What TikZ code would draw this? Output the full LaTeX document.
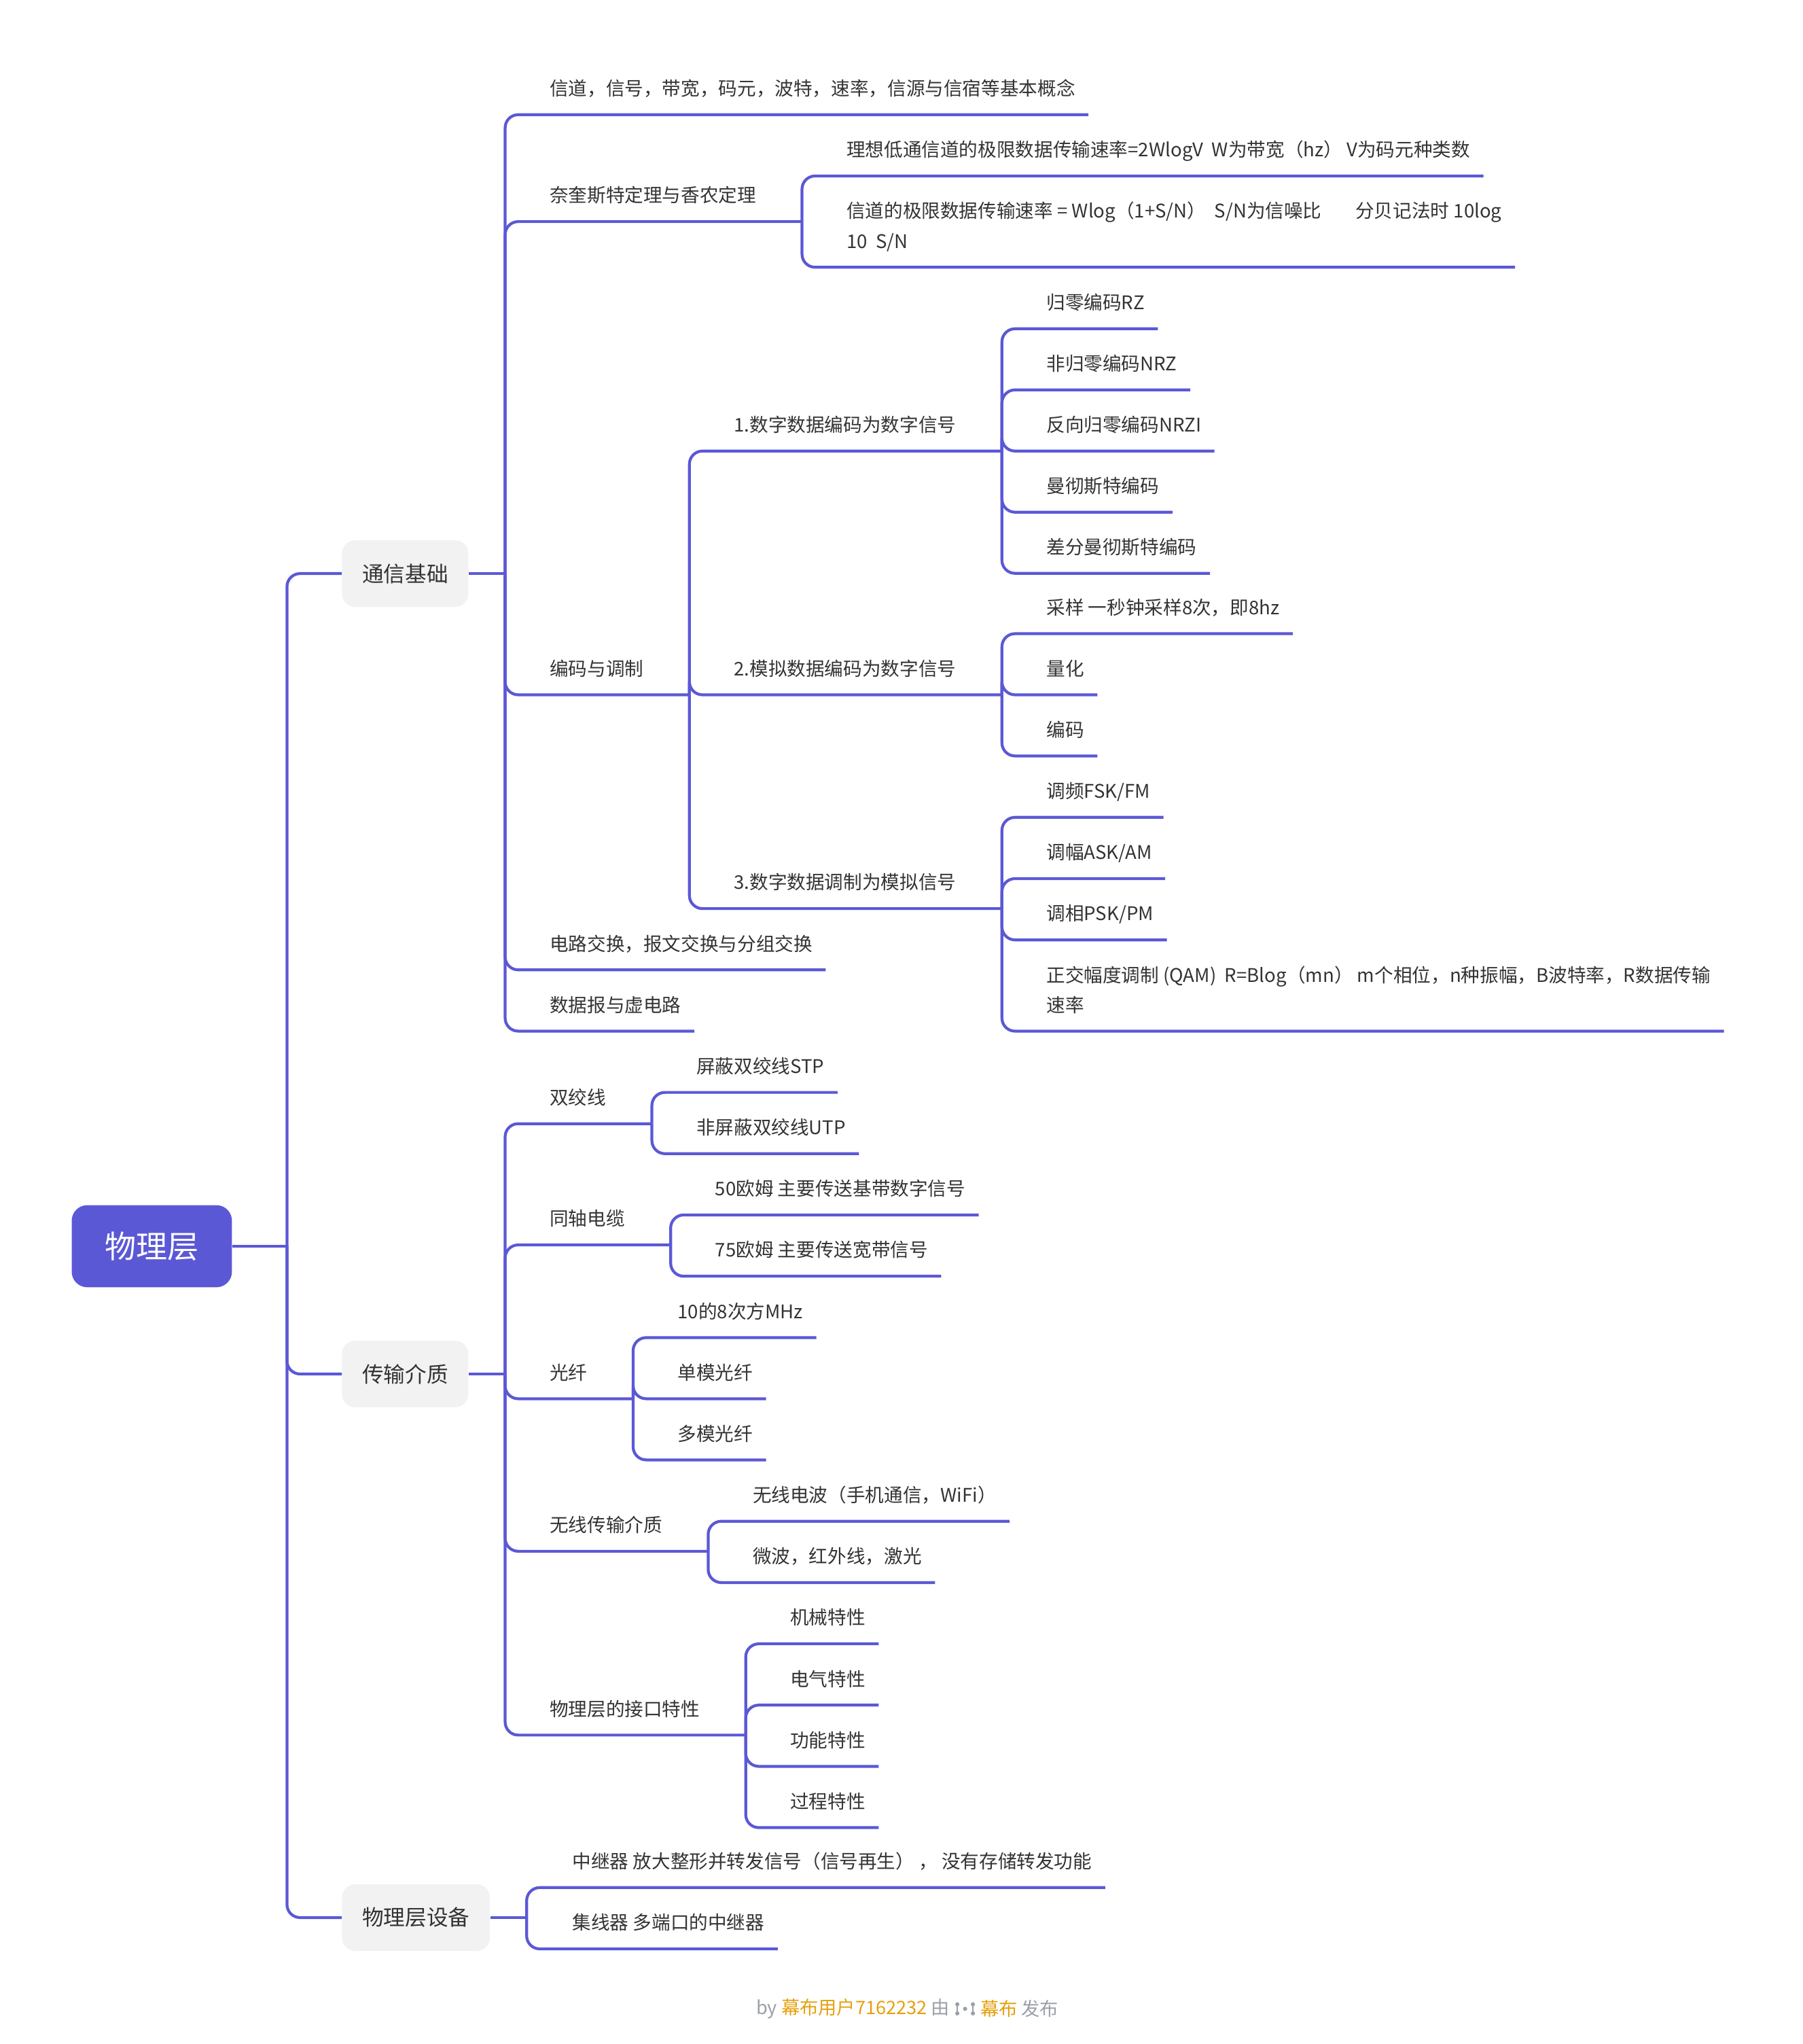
\documentclass[tikz,border=0pt]{standalone}
\usepackage{fontspec}
\newfontfamily\cjk{Noto Sans CJK SC}
\usetikzlibrary{positioning}
\definecolor{mubu}{RGB}{91,88,214}
\definecolor{boxgray}{RGB}{242,242,242}
\definecolor{ink}{RGB}{51,51,51}
\definecolor{gold}{RGB}{229,160,13}
\definecolor{muted}{RGB}{154,160,168}

\begin{document}
\begin{tikzpicture}[x=1pt,y=-1pt,
		branch/.style={draw=mubu,line width=2.2pt,rounded corners=10pt},
		rootbox/.style={fill=mubu,text=white,rounded corners=12pt,minimum width=123pt,minimum height=63pt,font=\cjk\fontsize{24}{28}\selectfont},
		mainbox/.style={fill=boxgray,text=ink,rounded corners=10pt,minimum height=51pt,inner xsep=15.5pt,font=\cjk\fontsize{16.5}{20}\selectfont},
		topic/.style={anchor=south west,inner xsep=0pt,inner ysep=14.5pt,text depth=0pt,text=ink,align=left,font=\cjk\fontsize{14.4}{23}\selectfont},
		credit/.style={inner sep=0pt,text=muted,font=\cjk\fontsize{14.2}{17}\selectfont}]
		\useasboundingbox (0,0) rectangle (1383,1568);
		
		\node[rootbox] (root) at (116.5,956) {物理层};
		\coordinate (j-root) at ([xshift=42pt]root.east);
		\draw[branch] (root) -- (j-root);
		\foreach \t/\n/\y in {通信基础/comm/440,传输介质/trans/1054,物理层设备/dev/1471}
		{\node[mainbox,anchor=west,xshift=42pt] (\n) at (j-root |- 0,\y) {\t};
			\coordinate (j-\n) at ([xshift=28pt]\n.east);
			\draw[branch] (j-root) |- (\n);
			\draw[branch] (\n) -- (j-\n);}
		
		% 通信基础
		\node[topic,xshift=34pt] (basic) at (j-comm |- 0,88) {信道，信号，带宽，码元，波特，速率，信源与信宿等基本概念};
		\node[topic,xshift=34pt] (nyq) at (j-comm |- 0,170) {奈奎斯特定理与香农定理};
		\node[topic,xshift=34pt] (coding) at (j-comm |- 0,533) {编码与调制};
		\node[topic,xshift=34pt] (switch) at (j-comm |- 0,744) {电路交换，报文交换与分组交换};
		\node[topic,xshift=34pt] (vc) at (j-comm |- 0,791) {数据报与虚电路};
		\foreach \n in {basic,switch,vc}
		\draw[branch] (j-comm) |- ([xshift=10pt]\n.south east);
		\foreach \n in {nyq,coding}
		{\coordinate (j-\n) at ([xshift=35pt]\n.south east);
			\draw[branch] (j-comm) |- (j-\n);}
		
		\node[topic,xshift=34pt] (nyq1) at (j-nyq |- 0,135) {理想低通信道的极限数据传输速率=2WlogV\ \ W为带宽（hz）\ V为码元种类数};
		\node[topic,xshift=34pt] (nyq2) at (j-nyq |- 0,205) {信道的极限数据传输速率 = Wlog（1+S/N）\ \ S/N为信噪比\hspace{26pt}分贝记法时 10log\\10\ \ S/N};
		\foreach \n in {nyq1,nyq2}
		\draw[branch] (j-nyq) |- ([xshift=10pt]\n.south east);
		
		\foreach \t/\n/\y in {1.数字数据编码为数字信号/one/346,2.模拟数据编码为数字信号/two/533,3.数字数据调制为模拟信号/three/697}
		{\node[topic,xshift=34pt] (\n) at (j-coding |- 0,\y) {\t};
			\coordinate (j-\n) at ([xshift=35pt]\n.south east);
			\draw[branch] (j-coding) |- (j-\n);}
		
		\foreach \t [count=\i] in {归零编码RZ,非归零编码NRZ,反向归零编码NRZI,曼彻斯特编码,差分曼彻斯特编码}
		{\pgfmathsetmacro\y{346+46.9*(\i-3)}
			\node[topic,xshift=34pt] (one\i) at (j-one |- 0,\y) {\t};
			\draw[branch] (j-one) |- ([xshift=10pt]one\i.south east);}
		\foreach \t [count=\i] in {采样 一秒钟采样8次，即8hz,量化,编码}
		{\pgfmathsetmacro\y{533+46.9*(\i-2)}
			\node[topic,xshift=34pt] (two\i) at (j-two |- 0,\y) {\t};
			\draw[branch] (j-two) |- ([xshift=10pt]two\i.south east);}
		\foreach \t [count=\i] in {调频FSK/FM,调幅ASK/AM,调相PSK/PM}
		{\pgfmathsetmacro\y{627+47*(\i-1)}
			\node[topic,xshift=34pt] (three\i) at (j-three |- 0,\y) {\t};
			\draw[branch] (j-three) |- ([xshift=10pt]three\i.south east);}
		\node[topic,xshift=34pt] (qam) at (j-three |- 0,791) {正交幅度调制 (QAM)\ \ R=Blog（mn）\ m个相位，n种振幅，B波特率，R数据传输\\速率};
		\draw[branch] (j-three) |- ([xshift=10pt]qam.south east);
		
		% 传输介质
		\foreach \t/\n/\y in {双绞线/twist/862,同轴电缆/coax/955,光纤/fiber/1073,无线传输介质/wireless/1190,物理层的接口特性/iface/1331}
		{\node[topic,xshift=34pt] (\n) at (j-trans |- 0,\y) {\t};
			\coordinate (j-\n) at ([xshift=35pt]\n.south east);
			\draw[branch] (j-trans) |- (j-\n);}
		
		\foreach \t [count=\i] in {屏蔽双绞线STP,非屏蔽双绞线UTP}
		{\pgfmathsetmacro\y{838+47*(\i-1)}
			\node[topic,xshift=34pt] (twist\i) at (j-twist |- 0,\y) {\t};
			\draw[branch] (j-twist) |- ([xshift=10pt]twist\i.south east);}
		\foreach \t [count=\i] in {50欧姆 主要传送基带数字信号,75欧姆 主要传送宽带信号}
		{\pgfmathsetmacro\y{932+47*(\i-1)}
			\node[topic,xshift=34pt] (coax\i) at (j-coax |- 0,\y) {\t};
			\draw[branch] (j-coax) |- ([xshift=10pt]coax\i.south east);}
		\foreach \t [count=\i] in {10的8次方MHz,单模光纤,多模光纤}
		{\pgfmathsetmacro\y{1073+46.9*(\i-2)}
			\node[topic,xshift=34pt] (fiber\i) at (j-fiber |- 0,\y) {\t};
			\draw[branch] (j-fiber) |- ([xshift=10pt]fiber\i.south east);}
		\foreach \t [count=\i] in {无线电波（手机通信，WiFi）,微波，红外线，激光}
		{\pgfmathsetmacro\y{1167+47*(\i-1)}
			\node[topic,xshift=34pt] (wireless\i) at (j-wireless |- 0,\y) {\t};
			\draw[branch] (j-wireless) |- ([xshift=10pt]wireless\i.south east);}
		\foreach \t [count=\i] in {机械特性,电气特性,功能特性,过程特性}
		{\pgfmathsetmacro\y{1261+47*(\i-1)}
			\node[topic,xshift=34pt] (iface\i) at (j-iface |- 0,\y) {\t};
			\draw[branch] (j-iface) |- ([xshift=10pt]iface\i.south east);}
		
		% 物理层设备
		\foreach \t [count=\i] in {中继器 放大整形并转发信号（信号再生）\ ，\ 没有存储转发功能,集线器 多端口的中继器}
		{\pgfmathsetmacro\y{1448+47*(\i-1)}
			\node[topic,xshift=35pt] (dev\i) at (j-dev |- 0,\y) {\t};
			\draw[branch] (j-dev) |- ([xshift=10pt]dev\i.south east);}
		
		% footer
		\node[credit,anchor=west] (by) at (580,1541) {by \textcolor{gold}{幕布用户7162232} 由};
		\node[credit,right=23pt of by] (pub) {\textcolor{gold}{幕布} 发布};
		\coordinate (logo) at ([xshift=11.5pt]by.east);
		\draw[muted,line width=1.1pt] ([xshift=-6pt,yshift=3.5pt]logo) -- ([xshift=-6pt,yshift=-3.5pt]logo)
		([xshift=6pt,yshift=3.5pt]logo) -- ([xshift=6pt,yshift=-3.5pt]logo);
		\foreach \dx/\dy in {-6/3.5,-6/-3.5,6/3.5,6/-3.5,0/0}
		\fill[muted] ([xshift=\dx pt,yshift=\dy pt]logo) circle (1.6);
\end{tikzpicture}
\end{document}
